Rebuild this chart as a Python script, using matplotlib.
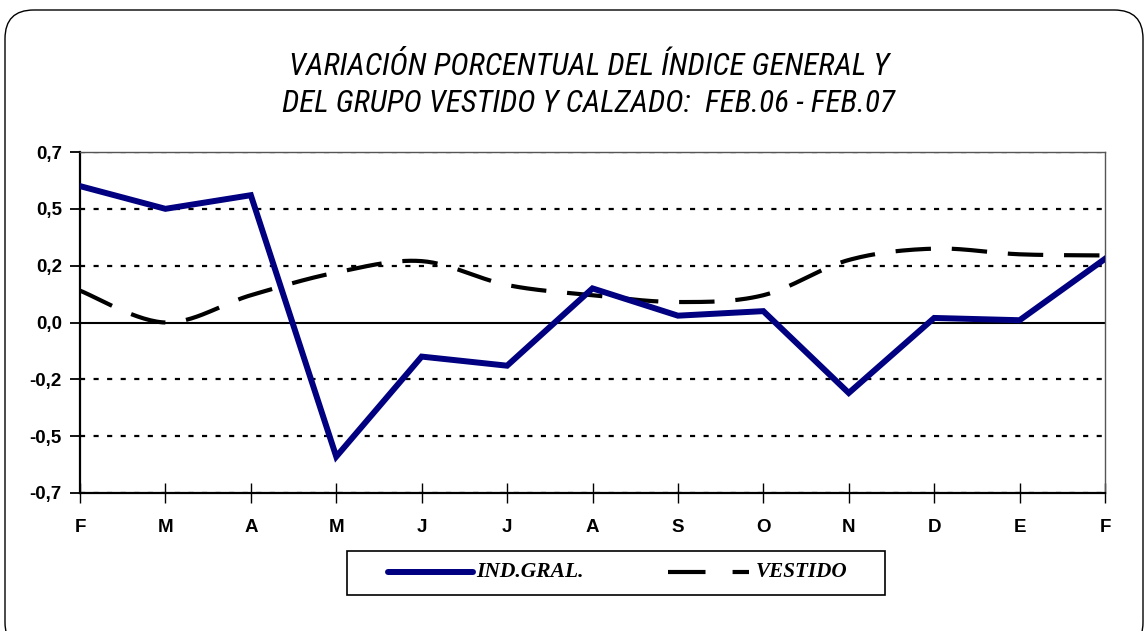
import numpy as np
import matplotlib
matplotlib.use("Agg")
import matplotlib.pyplot as plt
from matplotlib.patches import FancyBboxPatch, Rectangle
from matplotlib.lines import Line2D

# ---- data ----
months = ["F", "M", "A", "M", "J", "J", "A", "S", "O", "N", "D", "E", "F"]
ind_gral = [0.60, 0.50, 0.56, -0.59, -0.15, -0.19, 0.15, 0.03, 0.05, -0.31, 0.02, 0.01, 0.28]
vestido = [0.14, 0.00, 0.12, 0.22, 0.27, 0.165, 0.12, 0.09, 0.12, 0.275, 0.325, 0.30, 0.295]
ytick_vals = [-0.75, -0.5, -0.25, 0.0, 0.25, 0.5, 0.75]
ytick_labels = ["-0,7", "-0,5", "-0,2", "0,0", "0,2", "0,5", "0,7"]
title = "VARIACIÓN PORCENTUAL DEL ÍNDICE GENERAL Y\nDEL GRUPO VESTIDO Y CALZADO:  FEB.06 - FEB.07"
legend_labels = ["IND.GRAL.", "VESTIDO"]


def smooth(y, n=30):
    """Catmull-Rom smoothing (like a spreadsheet 'smoothed line')."""
    y = np.asarray(y, float)
    x = np.arange(len(y), dtype=float)
    p = np.concatenate([[y[0]], y, [y[-1]]])
    px = np.concatenate([[x[0]], x, [x[-1]]])
    xs, ys = [], []
    for i in range(len(y) - 1):
        t = np.linspace(0, 1, n, endpoint=False)
        for arr, out in ((px, xs), (p, ys)):
            p0, p1, p2, p3 = arr[i], arr[i + 1], arr[i + 2], arr[i + 3]
            m1 = (p2 - p0) / 2
            m2 = (p3 - p1) / 2
            h00 = 2 * t**3 - 3 * t**2 + 1
            h10 = t**3 - 2 * t**2 + t
            h01 = -2 * t**3 + 3 * t**2
            h11 = t**3 - t**2
            out.extend(h00 * p1 + h10 * m1 + h01 * p2 + h11 * m2)
    xs.append(x[-1]); ys.append(y[-1])
    return np.array(xs), np.array(ys)


W, H = 1148, 631
fig = plt.figure(figsize=(W / 100, H / 100), dpi=100)

# rounded outer frame
frame = FancyBboxPatch((5 / W, -20 / H), 1138 / W, 641 / H,
                       boxstyle="round,pad=0,rounding_size=0.025",
                       transform=fig.transFigure, facecolor="none",
                       edgecolor="black", lw=1.0, mutation_aspect=W / H)
fig.patches.append(frame)

ax = fig.add_axes([80 / W, 1 - 493 / H, (1105 - 80) / W, (493 - 152) / H])
x = np.arange(len(months))

# grid lines
for v in ytick_vals:
    if v == 0:
        ax.axhline(0, color="black", lw=1.5, zorder=1)
    else:
        ax.axhline(v, color="black", lw=1.6, dashes=(2.3, 3.8), zorder=1)

VEST_STYLE = dict(color="black", lw=3.0, dashes=(8.5, 5.0),
                  solid_capstyle="butt", dash_capstyle="butt")
IND_STYLE = dict(color="#000080", lw=4.3)

xs, ys = smooth(vestido)
ax.plot(xs, ys, zorder=3, **VEST_STYLE)
ax.plot(x, ind_gral, zorder=4, solid_joinstyle="miter", **IND_STYLE)

ax.set_xlim(0, 12)
ax.set_ylim(-0.75, 0.75)
ax.set_yticks(ytick_vals)
ax.set_yticklabels(ytick_labels)
ax.set_xticks(x)
ax.set_xticklabels(months)

for s in ["left", "bottom"]:
    ax.spines[s].set_linewidth(1.6)
    ax.spines[s].set_color("black")
for s in ["top", "right"]:
    ax.spines[s].set_linewidth(1.0)
    ax.spines[s].set_color("#555555")

ax.tick_params(axis="y", direction="out", length=7, width=1.3, pad=6)
ax.tick_params(axis="x", direction="inout", length=14, width=1.0, pad=12)
for lab in ax.get_yticklabels() + ax.get_xticklabels():
    lab.set_fontfamily(["Liberation Sans", "DejaVu Sans"])
    lab.set_fontweight("bold")
    lab.set_fontsize(13.5)

fig.text(0.513, 1 - 85 / H, title, ha="center", va="center",
         fontsize=22.5, style="italic", weight="normal", linespacing=1.38,
         family=["Roboto Condensed", "Archivo Narrow", "Liberation Sans", "DejaVu Sans"])

# legend (drawn by hand to match placement)
fig.patches.append(Rectangle((347 / W, 1 - 595 / H), 538 / W, 44 / H,
                             transform=fig.transFigure, facecolor="white",
                             edgecolor="black", lw=1.2))
ly = 1 - 572 / H
fig.lines.append(Line2D([388 / W, 473 / W], [ly, ly], transform=fig.transFigure,
                        solid_capstyle="round", **IND_STYLE))
fig.lines.append(Line2D([668 / W, 749 / W], [ly, ly], transform=fig.transFigure,
                        **{**VEST_STYLE, "dashes": (9.0, 6.5)}))
lprop = dict(family=["Liberation Serif", "DejaVu Serif"], style="italic",
             weight="bold", va="center", ha="left")
fig.text(476 / W, ly, legend_labels[0], fontsize=15.5, **lprop)
fig.text(756 / W, ly, legend_labels[1], fontsize=15.2, **lprop)

fig.savefig("out.png", dpi=100)
